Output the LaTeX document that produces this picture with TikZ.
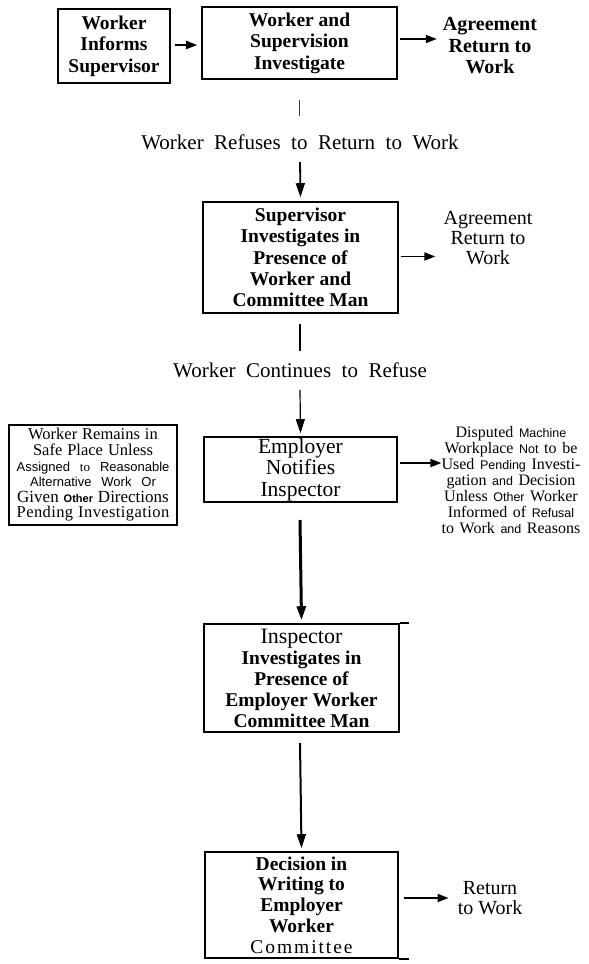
\documentclass[tikz,border=0pt]{standalone}
\usepackage{fontspec}
\setmainfont{Liberation Serif}
\newfontfamily\sansf{Liberation Sans}
\usetikzlibrary{arrows.meta,calc}
\newcommand\sw[1]{{\sansf\fontsize{12.5}{16}\selectfont #1}}
\newcommand\swb[1]{{\sansf\bfseries\fontsize{11}{16}\selectfont #1}}
\begin{document}
\begin{tikzpicture}[x=1pt,y=-1pt,
  box/.style={draw, line width=1.6pt, inner sep=0pt, align=center,
    font=\bfseries\fontsize{19.5}{21.5}\selectfont},
  plain/.style={inner sep=0pt, align=center, font=\fontsize{20}{20}\selectfont},
  boldtext/.style={inner sep=0pt, align=center, font=\bfseries\fontsize{20}{21.5}\selectfont},
  lab/.style={inner sep=0pt, font={\fontsize{21}{24}\selectfont\spaceskip=0.5em\relax}},
  harr/.style={line width=1.8pt, -{Triangle[length=11pt,width=8pt]}},
  varr/.style={-{Triangle[length=14pt,width=9pt]}}
]
\useasboundingbox (0,0) rectangle (589,964);
\fill[white] (0,0) rectangle (589,964);

% ---- nodes
\node[box, minimum width=112pt, minimum height=74pt] (b1) at (114,46) {Worker\\Informs\\Supervisor};
\node[box, minimum width=195pt, minimum height=72pt] (b2) at (299.5,43) {Worker and\\Supervision\\Investigate};
\node[boldtext] (agr1) at (490,46) {Agreement\\Return to\\Work};

\node[lab] (lab1) at (300,142) {Worker Refuses to Return to Work};

\node[box, minimum width=195pt, minimum height=111pt, font=\bfseries\fontsize{19.5}{21.25}\selectfont] (b3) at (300.5,257.5)
  {Supervisor\\Investigates in\\Presence of\\Worker and\\Committee Man};
\node[plain] (agr2) at (488,238) {Agreement\\Return to\\Work};

\node[lab] (lab2) at (300,370) {Worker Continues to Refuse};

\node[box, minimum width=193pt, minimum height=65pt,
  font=\mdseries\fontsize{21.5}{21.5}\selectfont] (b4) at (300.5,469.5)
  {Employer\\Notifies\\Inspector};

\node[draw, line width=1.3pt, inner sep=0pt, minimum width=168pt, minimum height=100pt,
  align=center, font={\fontsize{16.5}{15.6}\selectfont\spaceskip=0.3em\relax}] (lb) at (93,475)
  {Worker Remains in\\
   Safe Place Unless\\
   {\sansf\fontsize{13}{15.6}\selectfont Assigned\ \ {\rmfamily to}\ \ Reasonable}\\
   {\sansf\fontsize{13}{15.6}\selectfont Alternative\ \ Work\ \ Or}\\
   {\fontsize{17}{15.6}\selectfont Given} \swb{Other} {\fontsize{17}{15.6}\selectfont Directions}\\
   {\addfontfeature{LetterSpace=2.5}Pending Investigation}};

\node[inner sep=0pt, align=center, font={\fontsize{16}{16}\selectfont\spaceskip=0.35em\relax}] (rt) at (511,480)
  {Disputed \sw{Machine}\\
   Workplace \sw{Not} to be\\
   Used \sw{Pending} Investi-\\
   gation \sw{and} Decision\\
   Unless \sw{Other} Worker\\
   Informed of \sw{Refusal}\\
   to Work \sw{and} Reasons};

\node[box, minimum width=195pt, minimum height=108pt, font=\bfseries\fontsize{19.5}{21}\selectfont] (b5) at (301.5,678)
  {{\mdseries\fontsize{22}{21}\selectfont Inspector}\\Investigates in\\Presence of\\Employer Worker\\Committee Man};

\node[box, minimum width=193pt, minimum height=106pt, font=\bfseries\fontsize{19.5}{20.75}\selectfont] (b6) at (301.5,905)
  {Decision in\\Writing to\\Employer\\Worker\\{\mdseries\addfontfeature{LetterSpace=10}Committee}};
\node[plain] (ret) at (490,898) {Return\\to Work};

% ---- free ends
\coordinate (t1a) at (299,100);
\coordinate (t1b) at (299,116);
\coordinate (r1) at (300,162);
\coordinate (t2a) at (300,324);
\coordinate (t2b) at (300,351);
\coordinate (r2) at (300,390);
\coordinate (k1) at (300,520);
\coordinate (k2) at (300,743);

% ---- connectors
\draw[harr] ($(b1.east)+(4,-1)$) -- ($(b1.east -| b2.west)+(-4,-1)$);
\draw[harr] ($(b2.east)+(2,-4)$) -- ($(b2.east -| agr1.west)+(-6,-4)$);
\draw[line width=1pt, black!75] (t1a) -- (t1b);
\draw[varr, line width=1.8pt] (r1) -- ([yshift=4pt]b3.north);
\draw[harr] ($(b3.east)+(2,-1)$) -- ($(b3.east -| agr2.west)+(-8,-1)$);
\draw[line width=2pt] (t2a) -- (t2b);
\draw[varr, line width=1.2pt] (r2) -- ([yshift=3pt]b4.north);
\draw[harr] ($(b4.east)+(2,-6.5)$) -- ($(b4.east -| rt.west)+(0,-6.5)$);
\draw[varr, line width=3pt] (k1) -- ([yshift=3pt]b5.north);
\draw[line width=1.6pt] (b5.north east) -- ++(9,0);
\draw[varr, line width=2pt] (k2) -- ([yshift=3pt]b6.north);
\draw[line width=2.5pt] (b6.south east) -- ++(10,0);
\draw[harr] ($(b6.east)+(5,-7)$) -- ($(b6.east -| ret.west)+(-9,-7)$);
\end{tikzpicture}
\end{document}
